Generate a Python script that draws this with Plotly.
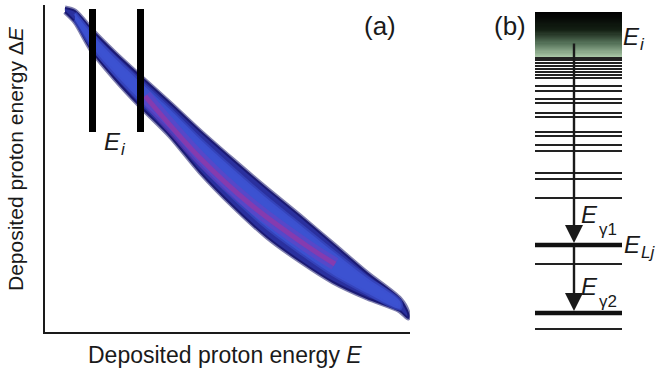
import plotly.graph_objects as go

# ---------------- data: panel (a) ----------------
band_E = [20, 30, 47, 70, 95, 125, 155, 188, 222, 255, 288, 322, 355, 363]
band_dE_upper = [324, 321, 302, 279, 256, 229, 201, 172, 143, 116, 88, 59, 33, 19]
band_dE_lower = [320, 310, 281, 253, 226, 196, 160, 126, 95, 71, 50, 34, 21, 14]
ridge_E = [100, 155, 205, 262, 290]
ridge_dE = [236, 174, 128, 86, 68]
gate_E = [47.5, 95.5]
gate_dE = [200, 323]

# ---------------- data: panel (b) ----------------
level_E = [277, 275, 272, 269, 266, 263, 260, 257, 249, 244, 236, 232, 222, 218,
           203, 199, 190, 184, 162, 156, 137, 71, 6]
strong_levels = [90, 22]
continuum = [278, 323]
E_i = 293
level_x = [535, 622]
arrow_x = 574

FONT = "Liberation Sans, Arial, sans-serif"
INK = "#1a1a1a"

fig = go.Figure()

# --- band ---
poly_x = band_E + band_E[::-1]
poly_y = band_dE_upper + band_dE_lower[::-1]
fig.add_trace(go.Scatter(x=poly_x, y=poly_y, fill="toself", mode="lines",
                         line=dict(color="rgba(25,25,110,0.55)", width=5, shape="spline", smoothing=0.8),
                         fillcolor="#23278f", hoverinfo="skip", showlegend=False))
fig.add_trace(go.Scatter(x=poly_x, y=poly_y, fill="toself", mode="lines",
                         line=dict(color="#1b1a74", width=2, shape="spline", smoothing=0.8),
                         fillcolor="#2a309e", hoverinfo="skip", showlegend=False))
inner_up = [l + 0.8 * (u - l) for u, l in zip(band_dE_upper, band_dE_lower)]
inner_lo = [l + 0.2 * (u - l) for u, l in zip(band_dE_upper, band_dE_lower)]
fig.add_trace(go.Scatter(x=band_E[1:-1] + band_E[1:-1][::-1],
                         y=inner_up[1:-1] + inner_lo[1:-1][::-1],
                         fill="toself", mode="lines",
                         line=dict(color="rgba(60,80,205,0.6)", width=4, shape="spline", smoothing=0.8),
                         fillcolor="rgba(62,86,214,0.9)", hoverinfo="skip", showlegend=False))
# ridge
fig.add_trace(go.Scatter(x=ridge_E, y=ridge_dE, mode="lines",
                         line=dict(color="rgba(135,55,185,0.35)", width=13, shape="spline"),
                         hoverinfo="skip", showlegend=False))
fig.add_trace(go.Scatter(x=ridge_E, y=ridge_dE, mode="lines",
                         line=dict(color="rgba(180,45,150,0.5)", width=5, shape="spline"),
                         hoverinfo="skip", showlegend=False))
# gate bars
for g in gate_E:
    fig.add_trace(go.Scatter(x=[g, g], y=gate_dE, mode="lines",
                             line=dict(color="#000000", width=7),
                             hoverinfo="skip", showlegend=False))

# --- panel (b): continuum gradient ---
nrow = 40
edges = [continuum[0] + (continuum[1] - continuum[0]) * k / nrow for k in range(nrow + 1)]
zcol = [[k] for k in range(nrow)]
fig.add_trace(go.Heatmap(x=level_x, y=edges, z=zcol, xaxis="x2", yaxis="y2",
                         colorscale=[[0, "#a8c6a5"], [0.3, "#56735a"], [0.6, "#142014"], [1, "#000000"]],
                         showscale=False, hoverinfo="skip"))
lx, ly = [], []
for e in level_E:
    lx += [level_x[0], level_x[1], None]
    ly += [e, e, None]
fig.add_trace(go.Scatter(x=lx, y=ly, mode="lines", xaxis="x2", yaxis="y2",
                         line=dict(color="#222222", width=1.8),
                         hoverinfo="skip", showlegend=False))
sx, sy = [], []
for e in strong_levels:
    sx += [level_x[0], level_x[1], None]
    sy += [e, e, None]
fig.add_trace(go.Scatter(x=sx, y=sy, mode="lines", xaxis="x2", yaxis="y2",
                         line=dict(color="#111111", width=4.5),
                         hoverinfo="skip", showlegend=False))

ann = []
ann.append(dict(x=arrow_x, y=strong_levels[0] + 2, ax=arrow_x, ay=E_i, xref="x2", yref="y2",
                axref="x2", ayref="y2", showarrow=True, arrowhead=2, arrowsize=1.5,
                arrowwidth=2.4, arrowcolor=INK, text=""))
ann.append(dict(x=arrow_x, y=strong_levels[1] + 2, ax=arrow_x, ay=strong_levels[0], xref="x2", yref="y2",
                axref="x2", ayref="y2", showarrow=True, arrowhead=2, arrowsize=1.5,
                arrowwidth=2.4, arrowcolor=INK, text=""))

def label(x, y, text, size=22, xanchor="left", angle=0):
    ann.append(dict(x=x, y=y, xref="paper", yref="paper", text=text, showarrow=False,
                    xanchor=xanchor, yanchor="middle", textangle=angle,
                    font=dict(family=FONT, size=size, color=INK)))

W, H = 658, 373
px = lambda v: v / W
py = lambda v: 1 - v / H

label(px(362), py(26), "(a)", 26)
label(px(492), py(26), "(b)", 26)
# E_i (panel a)
label(px(102), py(141), "<i>E</i>", 24)
label(px(119), py(149), "<i>i</i>", 17)
# E_i (panel b)
label(px(621), py(37), "<i>E</i>", 24)
label(px(638), py(45), "<i>i</i>", 17)
# E_gamma1
label(px(579), py(214), "<i>E</i>", 24)
label(px(597), py(229), "γ1", 17)
# E_Lj
label(px(622), py(244), "<i>E</i>", 24)
label(px(639), py(252), "<i>Lj</i>", 17)
# E_gamma2
label(px(579), py(286), "<i>E</i>", 24)
label(px(597), py(301), "γ2", 17)

label(px(225), py(355), "Deposited proton energy <i>E</i>", 23, xanchor="center")
label(px(15), py(159), "Deposited proton energy Δ<i>E</i>", 21, xanchor="center", angle=-90)

fig.update_layout(
    width=W, height=H, margin=dict(l=0, r=0, t=0, b=0),
    paper_bgcolor="white", plot_bgcolor="rgba(0,0,0,0)",
    showlegend=False, annotations=ann,
    xaxis=dict(domain=[45 / W, 410 / W], range=[0, 365], showline=True, linecolor=INK,
               linewidth=2, showgrid=False, zeroline=False, showticklabels=False, ticks=""),
    yaxis=dict(domain=[1 - 332 / H, 1 - 5 / H], range=[0, 327], showline=True, linecolor=INK,
               linewidth=2, showgrid=False, zeroline=False, showticklabels=False, ticks=""),
    xaxis2=dict(domain=[0, 1], range=[0, W], visible=False, anchor="y2"),
    yaxis2=dict(domain=[0, 1], range=[335 - H, 335], visible=False, anchor="x2"),
)

fig.write_html("out.html")
